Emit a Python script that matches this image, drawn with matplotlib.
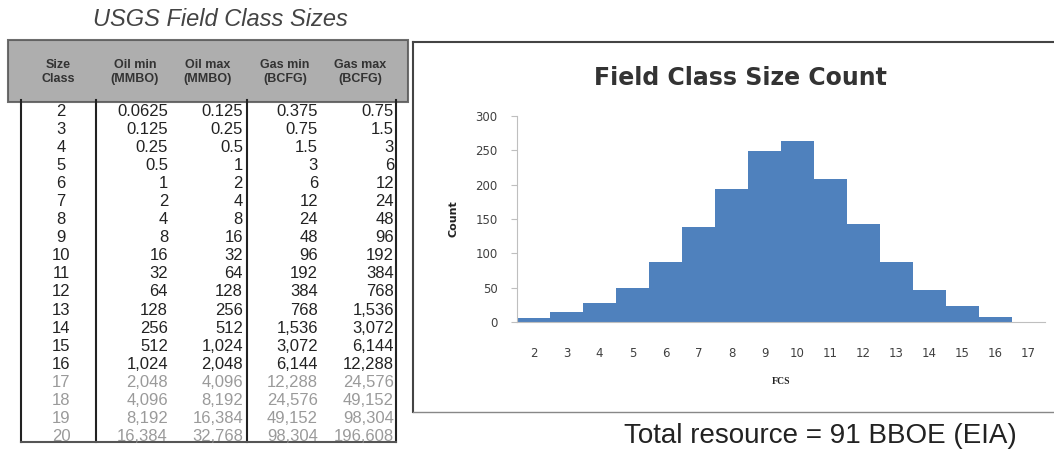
import matplotlib.pyplot as plt
from matplotlib.patches import Rectangle

# table data (USGS field size classes)
size_class = [2, 3, 4, 5, 6, 7, 8, 9, 10, 11, 12, 13, 14, 15, 16, 17, 18, 19, 20]
oil_min = ["0.0625", "0.125", "0.25", "0.5", "1", "2", "4", "8", "16", "32", "64", "128", "256", "512",
           "1,024", "2,048", "4,096", "8,192", "16,384"]
oil_max = ["0.125", "0.25", "0.5", "1", "2", "4", "8", "16", "32", "64", "128", "256", "512", "1,024",
           "2,048", "4,096", "8,192", "16,384", "32,768"]
gas_min = ["0.375", "0.75", "1.5", "3", "6", "12", "24", "48", "96", "192", "384", "768", "1,536", "3,072",
           "6,144", "12,288", "24,576", "49,152", "98,304"]
gas_max = ["0.75", "1.5", "3", "6", "12", "24", "48", "96", "192", "384", "768", "1,536", "3,072", "6,144",
           "12,288", "24,576", "49,152", "98,304", "196,608"]

# histogram data
fcs = [2, 3, 4, 5, 6, 7, 8, 9, 10, 11, 12, 13, 14, 15, 16, 17]
count = [6, 15, 28, 49, 88, 139, 193, 249, 263, 208, 142, 88, 47, 23, 8, 0]

fig = plt.figure(figsize=(10.54, 4.49), dpi=100)

# background axes in pixel coords for the table and frames
bg = fig.add_axes([0, 0, 1, 1])
bg.set_xlim(0, 1054)
bg.set_ylim(449, 0)
bg.axis('off')

bg.text(220, 20, "USGS Field Class Sizes", ha='center', va='center', fontsize=17,
        style='italic', color='#444444', family='Liberation Sans')

# header block
bg.add_patch(Rectangle((8, 40), 400, 62, facecolor='#a0a0a0', edgecolor='#555555', lw=1.5, alpha=0.85))
hdr = ["Size\nClass", "Oil min\n(MMBO)", "Oil max\n(MMBO)", "Gas min\n(BCFG)", "Gas max\n(BCFG)"]
for hx, h in zip([58, 135, 208, 285, 360], hdr):
    bg.text(hx, 72, h, ha='center', va='center', fontsize=9, color='#333333',
            family='Liberation Sans', fontweight='bold')

row0 = 111
step = 18.1
for i, c in enumerate(size_class):
    y = row0 + i * step
    col = '#222222' if c <= 16 else '#9a9a9a'
    kw = dict(va='center', fontsize=12, color=col, family='Liberation Sans')
    bg.text(61, y, str(c), ha='center', **kw)
    bg.text(168, y, oil_min[i], ha='right', **kw)
    bg.text(243, y, oil_max[i], ha='right', **kw)
    bg.text(318, y, gas_min[i], ha='right', **kw)
    bg.text(394, y, gas_max[i], ha='right', **kw)

for vx in [21, 96, 247, 396]:
    bg.plot([vx, vx], [100, 442], color='#222222', lw=1.5)
bg.plot([21, 396], [442, 442], color='#555555', lw=1.5)

# chart frame
bg.plot([413, 1054], [42, 42], color='#444444', lw=1.5)
bg.plot([413, 413], [42, 412], color='#444444', lw=1.5)
bg.plot([413, 1054], [412, 412], color='#888888', lw=1)

bg.text(740, 78, "Field Class Size Count", ha='center', va='center', fontsize=17,
        fontweight='bold', color='#333333')
bg.text(820, 436, "Total resource = 91 BBOE (EIA)", ha='center', va='center', fontsize=20,
        color='#222222', family='Liberation Sans')

# histogram chart
ax = fig.add_axes([517 / 1054, (449 - 322) / 449, 528 / 1054, 206 / 449])
ax.bar(fcs, count, width=1.0, color='#4f81bd', edgecolor='none')
ax.set_xlim(1.5, 17.5)
ax.set_ylim(0, 300)
ax.set_xticks(fcs)
ax.set_yticks([0, 50, 100, 150, 200, 250, 300])
ax.tick_params(axis='x', length=0, pad=18, labelsize=8.5, labelcolor='#404040')
ax.tick_params(axis='y', length=4, pad=10, labelsize=8.5, labelcolor='#404040', color='#bfbfbf')
for s in ['top', 'right']:
    ax.spines[s].set_visible(False)
ax.spines['left'].set_color('#bfbfbf')
ax.spines['bottom'].set_color('#bfbfbf')
ax.set_facecolor('none')
ax.set_xlabel("FCS", fontsize=7, fontweight='bold', family='Liberation Serif', labelpad=12, color='#222222')
ax.set_ylabel("Count", fontsize=8, fontweight='bold', labelpad=12, color='#222222')

fig.savefig("out.png", dpi=100)
